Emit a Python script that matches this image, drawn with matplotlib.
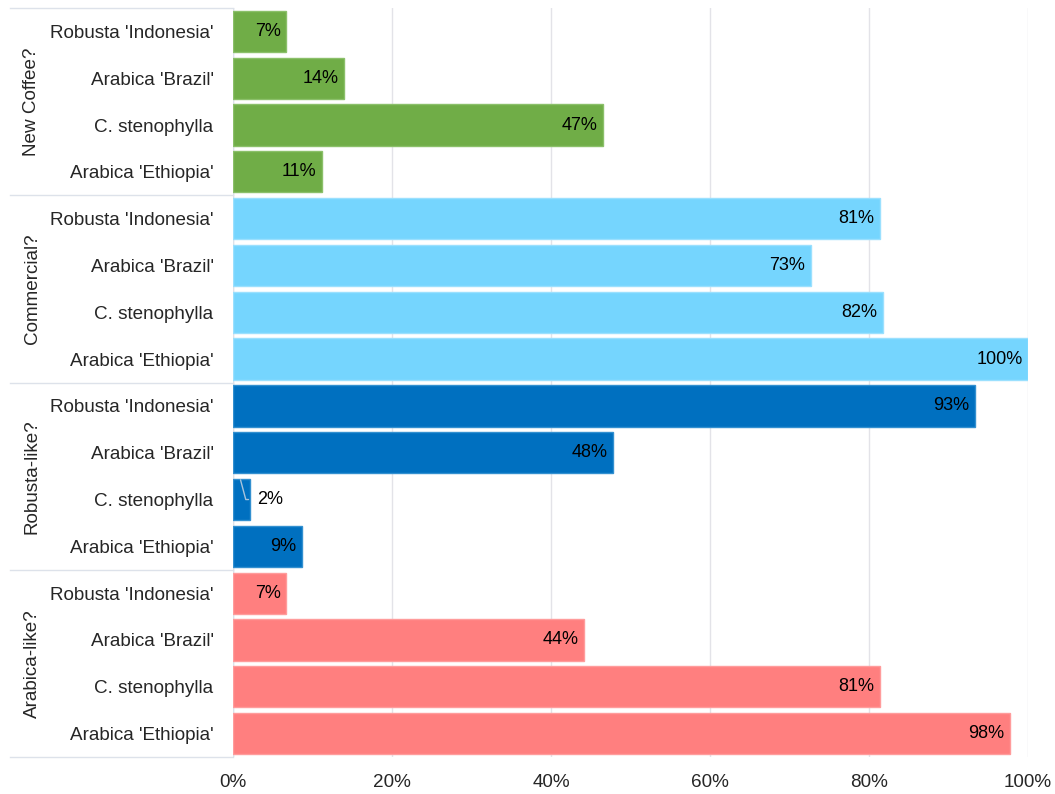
import matplotlib.pyplot as plt
from matplotlib.transforms import blended_transform_factory

plt.rcParams["font.family"] = ["Liberation Sans", "DejaVu Sans"]

groups = ["New Coffee?", "Commercial?", "Robusta-like?", "Arabica-like?"]
coffees = ["Robusta 'Indonesia'", "Arabica 'Brazil'", "C. stenophylla", "Arabica 'Ethiopia'"]

new_coffee = [6.7, 14.0, 46.6, 11.2]
commercial = [81.4, 72.7, 81.8, 100.0]
robusta_like = [93.3, 47.8, 2.1, 8.7]
arabica_like = [6.7, 44.2, 81.4, 97.7]

group_values = [new_coffee, commercial, robusta_like, arabica_like]
group_colors = ["#70AD47", "#75D5FE", "#0070C0", "#FF7F7F"]
edge_colors = ["#8BC06A", "#9BE0FE", "#3390D0", "#FF9C9C"]

fig = plt.figure(figsize=(10.55, 7.94), dpi=100)
ax = fig.add_axes([233 / 1055, 37 / 794, 795 / 1055, 749 / 794])

n = len(coffees)
row = 0
for g, vals in enumerate(group_values):
    for i, v in enumerate(vals):
        y = row
        ax.barh(y, v, height=0.88, color=group_colors[g],
                edgecolor=edge_colors[g], linewidth=1, zorder=3)
        if v < 4:
            # small bar: label outside with a leader line
            ax.annotate(f"{round(v)}%", xy=(v * 0.45, y - 0.42), xytext=(v + 0.9, y),
                        va="center", ha="left", fontsize=13, color="#000000",
                        arrowprops=dict(arrowstyle="-", color="#A9C4DC", lw=1,
                                        shrinkA=4, shrinkB=0,
                                        connectionstyle="angle,angleA=180,angleB=105,rad=0"),
                        zorder=4)
        else:
            ax.text(v - 0.7, y, f"{round(v)}%", va="center", ha="right",
                    fontsize=13, color="#000000", zorder=4)
        row += 1

ax.set_xlim(0, 100)
ax.set_ylim(len(groups) * n - 0.5, -0.5)
ax.set_xticks([0, 20, 40, 60, 80, 100])
ax.set_xticklabels([f"{t}%" for t in [0, 20, 40, 60, 80, 100]])
ax.set_yticks(range(len(groups) * n))
ax.set_yticklabels(coffees * len(groups))
ax.tick_params(axis="both", length=0, labelsize=13.6, labelcolor="#262626")
ax.tick_params(axis="y", pad=14)
ax.tick_params(axis="x", pad=12)
ax.grid(axis="x", color="#E3E3E8", lw=1, zorder=0)
for s in ax.spines.values():
    s.set_visible(False)
ax.axvline(0, color="#DDE2EA", lw=1, zorder=2)

# group separators and labels
trans = blended_transform_factory(ax.transAxes, ax.transData)
x_left = -223 / 795
for g in range(len(groups) + 1):
    yb = g * n - 0.5
    ax.plot([x_left, 0], [yb, yb], transform=trans, color="#DDE2EA",
            lw=1, clip_on=False)
for g, name in enumerate(groups):
    yc = g * n + (n - 1) / 2
    ax.text(-201 / 795, yc, name, transform=trans, rotation=90,
            va="center", ha="center", fontsize=13.6, color="#262626")

fig.savefig("out.png", dpi=100)
